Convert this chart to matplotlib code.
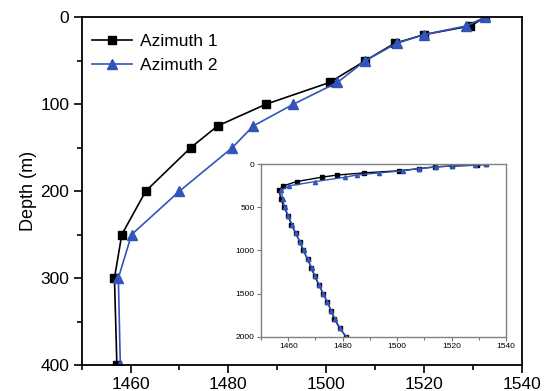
import numpy as np
import matplotlib
matplotlib.use('Agg')
import matplotlib.pyplot as plt
from matplotlib.ticker import MultipleLocator

plt.rcParams['font.family'] = ['Liberation Sans', 'DejaVu Sans']

# Sound speed profiles (m/s) vs depth (m)
depth = [0, 10, 20, 30, 50, 75, 100, 125, 150, 200, 250, 300, 400,
         500, 600, 700, 800, 900, 1000, 1100, 1200, 1300, 1400,
         1500, 1600, 1700, 1800, 1900, 2000]
azimuth1 = [1532.5, 1529.5, 1520.0, 1514.0, 1508.0, 1500.7, 1487.7, 1477.8,
            1472.3, 1463.1, 1458.2, 1456.7, 1457.2,
            1458.5, 1460.0, 1461.2, 1462.7, 1464.3, 1465.5, 1467.1, 1468.5,
            1469.7, 1471.3, 1472.8, 1474.4, 1475.8, 1477.0, 1478.9, 1481.2]
azimuth2 = [1532.5, 1528.6, 1520.0, 1514.4, 1508.0, 1502.3, 1493.3, 1485.1,
            1480.8, 1470.0, 1460.2, 1457.5, 1457.9,
            1458.7, 1460.1, 1461.4, 1462.8, 1464.3, 1465.7, 1467.1, 1468.6,
            1469.9, 1471.4, 1472.9, 1474.4, 1475.8, 1477.3, 1479.0, 1481.3]

blue = '#3355bb'

fig = plt.figure(figsize=(5.45, 3.91), dpi=100)
ax = fig.add_axes([0.1499, 0.0665, 0.8073, 0.8893])

ax.plot(azimuth1, depth, '-s', color='black', lw=1.2, ms=5.5, label='Azimuth 1')
ax.plot(azimuth2, depth, '-^', color=blue, lw=1.2, ms=6.5, label='Azimuth 2')

ax.set_xlim(1450, 1540)
ax.set_ylim(400, 0)
ax.xaxis.set_minor_locator(MultipleLocator(10))
ax.yaxis.set_major_locator(MultipleLocator(100))
ax.yaxis.set_minor_locator(MultipleLocator(50))
ax.set_xticks(np.arange(1460, 1541, 20))
ax.tick_params(which='major', direction='out', length=6, width=1.2,
               labelsize=12.5, pad=3)
ax.tick_params(which='minor', direction='out', length=3.5, width=1.2)
for s in ax.spines.values():
    s.set_linewidth(1.3)
ax.set_ylabel('Depth (m)', fontsize=13, labelpad=2)

ax.legend(loc='upper left', bbox_to_anchor=(0.023, 0.952), frameon=False,
          fontsize=12.5, handlelength=2.3, labelspacing=0.5,
          borderpad=0, borderaxespad=0, handletextpad=0.5)

# Inset: full profile down to 2000 m
ins = fig.add_axes([0.4789, 0.1389, 0.4495, 0.4409])
ins.plot(azimuth1, depth, '-s', color='black', lw=1.0, ms=2.5)
ins.plot(azimuth2, depth, '-^', color=blue, lw=1.0, ms=3.0)
ins.set_xlim(1450, 1540)
ins.set_ylim(2000, 0)
ins.set_xticks(np.arange(1460, 1541, 20))
ins.xaxis.set_minor_locator(MultipleLocator(10))
ins.yaxis.set_major_locator(MultipleLocator(500))
ins.tick_params(which='major', direction='out', length=3, width=0.8,
                color='#777777', labelsize=6, pad=1.5)
ins.tick_params(which='minor', direction='out', length=1.8, width=0.8,
                color='#777777')
for s in ins.spines.values():
    s.set_color('#808080')
    s.set_linewidth(1.0)

plt.savefig('out.png', dpi=100)
plt.close()
